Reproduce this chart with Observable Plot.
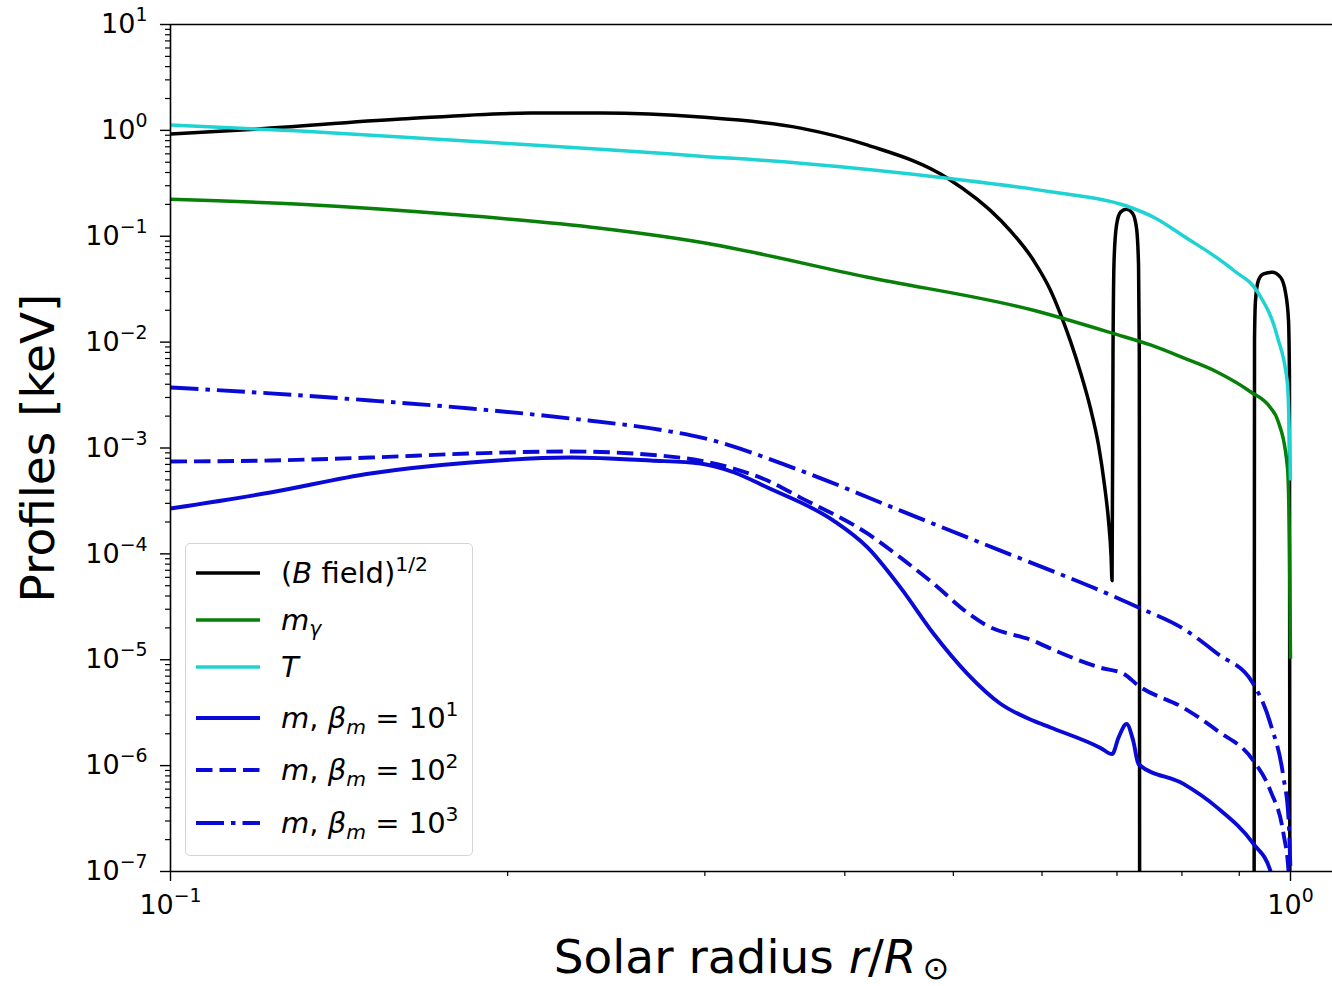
<!DOCTYPE html>
<html><head><meta charset="utf-8">
<script src="https://cdn.jsdelivr.net/npm/d3@7"></script>
<script src="https://cdn.jsdelivr.net/npm/@observablehq/plot@0.6"></script>
<style>
html,body{margin:0;padding:0;background:#fff;overflow:hidden}
#wrap{position:relative;width:1332px;height:986px}
#legend{position:absolute;left:185px;top:543px;width:288px;height:313px;border:1.3px solid #d4d4d4;border-radius:5px;background:rgba(255,255,255,0.85);font-family:"DejaVu Sans";font-size:29px;box-sizing:border-box;color:#000}
.item{position:absolute;left:0;height:44px;margin-top:-22px;display:flex;align-items:center;white-space:nowrap}
.item svg{position:absolute;left:9px;top:18px}
.item .lab{position:absolute;left:95px;top:4px;line-height:36px}
.lab sup{font-size:0.7em;vertical-align:12px;line-height:0}
.lab sub{font-size:0.7em;vertical-align:-6px;line-height:0}
</style>
</head><body><div id="wrap"></div>
<script>
// ---- data ----
const rB = [0.1, 0.119, 0.1605, 0.2096, 0.242, 0.2973, 0.3652, 0.4193, 0.4941, 0.5509, 0.5895, 0.6105, 0.6232, 0.6363, 0.6494, 0.6629, 0.674, 0.6823, 0.6879, 0.6915, 0.6929, 0.6943, 0.6958, 0.6993, 0.7051, 0.7139, 0.7227, 0.7287, 0.7317, 0.7328, 0.7336, 0.8, 0.9277, 0.9287, 0.9306, 0.9363, 0.946, 0.9632, 0.9797, 0.9897, 0.9959, 0.9979, 0.999];
const vB = [0.922, 1.027, 1.278, 1.456, 1.456, 1.335, 1.05, 0.725, 0.3535, 0.1417, 0.0593, 0.0309, 0.0184, 0.0101, 0.00517, 0.00236, 0.001056, 0.000442, 0.000206, 9.63e-5, 5.58e-5, 0.00836, 0.0593, 0.127, 0.169, 0.18, 0.165, 0.119, 0.0532, 0.00836, 1e-9, 1e-9, 1e-9, 0.0106, 0.0248, 0.0384, 0.0441, 0.0457, 0.041, 0.0296, 0.0161, 0.0044, 1e-9];

const rMg = [0.1, 0.1306, 0.1778, 0.242, 0.2973, 0.4193, 0.5895, 0.6943, 0.7499, 0.8025, 0.8607, 0.921, 0.9597, 0.9737, 0.9938, 0.998, 1.0];
const vMg = [0.2239, 0.2008, 0.1614, 0.119, 0.0878, 0.041, 0.02, 0.0121, 0.0094, 0.0071, 0.0052, 0.0034, 0.0024, 0.00185, 0.000654, 0.000107, 1.02e-5];

const rT = [0.1, 0.1306, 0.1778, 0.242, 0.2973, 0.3652, 0.4941, 0.6105, 0.7139, 0.7577, 0.8025, 0.8895, 0.9363, 0.9737, 0.9938, 1.0];
const vT = [1.121, 0.984, 0.809, 0.665, 0.571, 0.49, 0.3535, 0.2635, 0.193, 0.148, 0.1005, 0.0477, 0.0289, 0.0111, 0.00407, 0.000493];

const rM1 = [0.1, 0.1228, 0.1508, 0.1853, 0.2276, 0.2683, 0.2973, 0.3182, 0.3412, 0.3908, 0.4193, 0.4486, 0.4801, 0.5147, 0.5509, 0.5895, 0.6105, 0.6767, 0.693, 0.7022, 0.7139, 0.7238, 0.7317, 0.8025, 0.8607, 0.9268, 0.9597, 0.98];
const vM1 = [2.68e-4, 3.8e-4, 5.74e-4, 7.29e-4, 8.13e-4, 7.62e-4, 7.13e-4, 5.9e-4, 4.23e-4, 2.06e-4, 1.146e-4, 4.8e-5, 1.76e-5, 7.37e-6, 3.84e-6, 2.65e-6, 2.29e-6, 1.47e-6, 1.283e-6, 1.84e-6, 2.47e-6, 1.71e-6, 1.032e-6, 6.72e-7, 3.99e-7, 1.82e-7, 1.01e-7, 3e-8];

const rM2 = [0.1, 0.1228, 0.1508, 0.1853, 0.2276, 0.2796, 0.2973, 0.3182, 0.3412, 0.3652, 0.4193, 0.4486, 0.4801, 0.5147, 0.5341, 0.5895, 0.6169, 0.6767, 0.7095, 0.7317, 0.8025, 0.8607, 0.9268, 0.9597, 0.9858, 0.9959, 1.0];
const vM2 = [7.46e-4, 7.62e-4, 8.13e-4, 8.87e-4, 9.27e-4, 8.3e-4, 7.6e-4, 6.4e-4, 4.93e-4, 3.4e-4, 1.55e-4, 9.21e-5, 5.23e-5, 2.78e-5, 2.14e-5, 1.51e-5, 1.217e-5, 8.4e-6, 7.37e-6, 5.68e-6, 3.52e-6, 2.13e-6, 1.109e-6, 5.77e-7, 2.26e-7, 1.01e-7, 3e-8];

const rM3 = [0.1, 0.1228, 0.1508, 0.1853, 0.2276, 0.2796, 0.2973, 0.3652, 0.4486, 0.5509, 0.6169, 0.6767, 0.7317, 0.8025, 0.8607, 0.9248, 0.9597, 0.9858, 0.9959, 1.0];
const vM3 = [3.73e-3, 3.28e-3, 2.81e-3, 2.36e-3, 1.9e-3, 1.43e-3, 1.26e-3, 6.12e-4, 2.56e-4, 1.073e-4, 6.69e-5, 4.49e-5, 3.12e-5, 1.96e-5, 1.139e-5, 6.1e-6, 2.48e-6, 7.66e-7, 3.21e-7, 1.01e-7];

const seriesKeys = ["B", "mg", "T", "m1", "m2", "m3"];
const legendLabels = [
  "(<i>B</i> field)<sup>1/2</sup>",
  "<i>m</i><sub><i>γ</i></sub>",
  "<i>T</i>",
  "<i>m</i>, <i>β</i><sub><i>m</i></sub> = 10<sup>1</sup>",
  "<i>m</i>, <i>β</i><sub><i>m</i></sub> = 10<sup>2</sup>",
  "<i>m</i>, <i>β</i><sub><i>m</i></sub> = 10<sup>3</sup>"
];
const seriesColors = ["#000000", "#087f08", "#1fd3d3", "#0a0ad6", "#0a0ad6", "#0a0ad6"];
const seriesDash = [null, null, null, null, "16.5,7", "28,7,4.5,7"];
const seriesWidth = [3.5, 3.5, 3.5, 3.9, 3.9, 3.9];

const xTicks = [0.1, 1];
const xTickLabels = ["10^−1", "10^0"];
const xMinor = [0.2, 0.3, 0.4, 0.5, 0.6, 0.7, 0.8, 0.9];
const yTicks = [1e-7, 1e-6, 1e-5, 1e-4, 1e-3, 1e-2, 1e-1, 1, 10];
const yTickLabels = ["10^−7", "10^−6", "10^−5", "10^−4", "10^−3", "10^−2", "10^−1", "10^0", "10^1"];
const yMinor = [];
for (const d of [1e-7, 1e-6, 1e-5, 1e-4, 1e-3, 1e-2, 1e-1, 1]) for (const k of [2,3,4,5,6,7,8,9]) yMinor.push(d * k);

const yLabel = "Profiles [keV]";
const xLabel = "Solar radius r/R⊙";

// ---- build ----
const seriesR = [rB, rMg, rT, rM1, rM2, rM3];
const seriesV = [vB, vMg, vT, vM1, vM2, vM3];
const tables = seriesR.map((rs, i) => rs.map((r, j) => ({r, v: seriesV[i][j], s: seriesKeys[i]})));

const lineMarks = tables.map((t, i) => Plot.line(t, {
  x: "r", y: "v", stroke: seriesColors[i], strokeWidth: seriesWidth[i],
  strokeDasharray: seriesDash[i] || undefined, curve: "monotone-x", clip: true,
  strokeLinejoin: "round", strokeLinecap: "butt"
}));

const chart = Plot.plot({
  width: 1332, height: 986,
  marginLeft: 170, marginRight: 0, marginTop: 24, marginBottom: 115,
  x: {type: "log", domain: [0.1, 1.0902]},
  y: {type: "log", domain: [1e-7, 10]},
  style: {fontFamily: "DejaVu Sans", fontSize: "27px", color: "#000", background: "#fff"},
  marks: [
    ...lineMarks,
    Plot.ruleX([0.1], {stroke: "#000", strokeWidth: 1.6}),
    Plot.ruleY([1e-7, 10], {stroke: "#000", strokeWidth: 1.6}),
    Plot.axisY(yMinor, {tickSize: 5, tickFormat: () => "", strokeWidth: 1.2, label: null}),
    Plot.axisY(yTicks, {tickSize: 10, tickPadding: 13, strokeWidth: 1.4, label: null,
      tickFormat: d => yTickLabels[yTicks.indexOf(d)]}),
    Plot.axisX(xMinor, {tickSize: 5, tickFormat: () => "", strokeWidth: 1.2, label: null}),
    Plot.axisX(xTicks, {tickSize: 10, tickPadding: 13, strokeWidth: 1.4, label: null,
      tickFormat: d => xTickLabels[xTicks.indexOf(d)]}),
    Plot.text([yLabel], {text: d => d, frameAnchor: "left", textAnchor: "middle", lineAnchor: "middle", dx: -132, rotate: -90, fontSize: 47, fill: "#000"}),
    Plot.text([xLabel], {text: d => d, frameAnchor: "bottom", textAnchor: "middle", lineAnchor: "middle", dy: 86, fontSize: 47, fill: "#000", className: "xlab"})
  ]
});

document.getElementById("wrap").appendChild(chart);

// superscripts in tick labels
d3.select(chart).selectAll("text").each(function() {
  const t = this.textContent;
  const m = /^10\^(.+)$/.exec(t);
  if (m) {
    const sel = d3.select(this);
    sel.text("10");
    sel.append("tspan").attr("dy", -12).attr("font-size", "0.7em").text(m[1]);
  }
});
// rich x label
d3.select(chart).selectAll(".xlab text").each(function() {
  const sel = d3.select(this);
  sel.text(null);
  sel.append("tspan").text("Solar radius ");
  sel.append("tspan").attr("font-style", "italic").text("r");
  sel.append("tspan").text("/");
  sel.append("tspan").attr("font-style", "italic").text("R");
  sel.append("tspan").attr("dx", 6).attr("dy", 6).attr("font-size", "0.68em").text("⊙");
});

// legend
const leg = document.createElement("div");
leg.id = "legend";
const centers = [29, 76, 123, 174, 226, 279];
seriesKeys.forEach((k, i) => {
  const it = document.createElement("div");
  it.className = "item";
  it.style.top = centers[i] + "px";
  const dash = seriesDash[i] ? `stroke-dasharray="${seriesDash[i]}"` : "";
  it.innerHTML = `<svg width="66" height="8"><line x1="1" y1="4" x2="65" y2="4" stroke="${seriesColors[i]}" stroke-width="${seriesWidth[i]}" ${dash}/></svg><span class="lab">${legendLabels[i]}</span>`;
  leg.appendChild(it);
});
document.getElementById("wrap").appendChild(leg);
</script>
</body></html>
